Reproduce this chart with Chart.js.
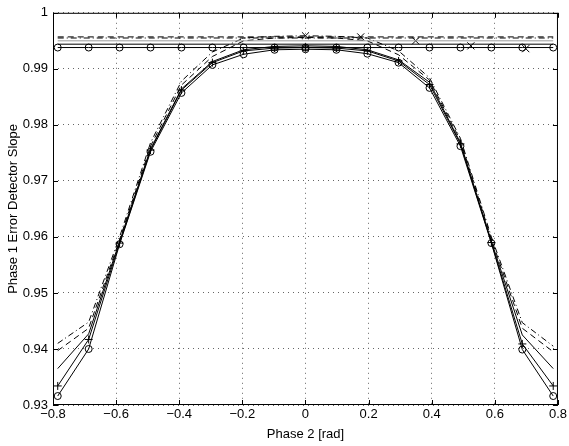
<!DOCTYPE html>
<html lang="en">
  <head>
    <meta charset="UTF-8" />
    <title>Phase 1 Error Detector Slope</title>
    <script src="https://cdn.jsdelivr.net/npm/chart.js"></script>
    <style>
      body { margin: 0; background: #fff; }
    </style>
  </head>
  <body>
    <canvas id="myChart" width="569" height="446"></canvas>

    <script>
      // phase 2 sample points [rad]
      const phase = [-0.785, -0.687, -0.589, -0.491, -0.393, -0.295, -0.196, -0.098, 0,
        0.098, 0.196, 0.295, 0.393, 0.491, 0.589, 0.687, 0.785];

      // curves
      const slopeCircle = [0.9316, 0.9400, 0.9587, 0.9752, 0.9857, 0.9907, 0.9926, 0.9934, 0.9935,
        0.9934, 0.9927, 0.9911, 0.9866, 0.9762, 0.9589, 0.9399, 0.9316];
      const slopePlus = [0.9334, 0.9417, 0.9589, 0.9755, 0.9862, 0.9911, 0.9932, 0.9937, 0.9938,
        0.9937, 0.9932, 0.9914, 0.9872, 0.9766, 0.9590, 0.9409, 0.9334];
      const slopeSolid = [0.9365, 0.9427, 0.9592, 0.9757, 0.9864, 0.9913, 0.9934, 0.9940, 0.9941,
        0.9940, 0.9934, 0.9916, 0.9876, 0.9768, 0.9592, 0.9425, 0.9365];
      const slopeDashed = [0.9397, 0.9437, 0.9595, 0.9762, 0.9871, 0.9922, 0.9950, 0.9955, 0.9956,
        0.9955, 0.9950, 0.9925, 0.9880, 0.9772, 0.9596, 0.9437, 0.9395];
      const slopeDashDot = [0.9410, 0.9448, 0.9600, 0.9768, 0.9878, 0.9930, 0.9955, 0.9958, 0.9959,
        0.9958, 0.9955, 0.9932, 0.9884, 0.9776, 0.9600, 0.9447, 0.9405];

      // flat reference levels
      const refCircle = [0.9938, 0.9938, 0.9938, 0.9938, 0.9938, 0.9938, 0.9938, 0.9938, 0.9938,
        0.9938, 0.9938, 0.9938, 0.9938, 0.9938, 0.9938, 0.9938, 0.9938];
      const refEnds = [-0.785, 0.785];
      const refSolid = [0.9944, 0.9944];
      const refGray = [0.9950, 0.9950];
      const refDashDot = [0.9955, 0.9955];
      const refDashed = [0.9957, 0.9957];

      // separate 'x' samples
      const crossPhase = [0, 0.175, 0.349, 0.524, 0.698];
      const crossSlope = [0.9959, 0.9957, 0.9950, 0.9941, 0.9936];

      const xTicks = [-0.8, -0.6, -0.4, -0.2, 0, 0.2, 0.4, 0.6, 0.8];
      const yTicks = [0.93, 0.94, 0.95, 0.96, 0.97, 0.98, 0.99, 1];

      const pts = (xs, ys) => xs.map((x, i) => ({ x: x, y: ys[i] }));
      const minus = (s) => s.replace("-", "\u2212");

      function line(xs, ys, opts) {
        return Object.assign({
          data: pts(xs, ys),
          showLine: true,
          borderColor: "#000",
          borderWidth: 1,
          pointRadius: 0,
          pointBorderColor: "#000",
          pointBackgroundColor: "rgba(0,0,0,0)",
          pointBorderWidth: 1,
        }, opts);
      }

      // box + inward ticks, matlab style
      const frame = {
        id: "frame",
        afterDraw(chart) {
          const { ctx, chartArea: a, scales } = chart;
          ctx.save();
          ctx.strokeStyle = "#000";
          ctx.lineWidth = 1;
          ctx.strokeRect(a.left + 0.5, a.top + 0.5, a.right - a.left - 1, a.bottom - a.top - 1);
          ctx.beginPath();
          xTicks.forEach((v) => {
            const px = Math.round(scales.x.getPixelForValue(v)) + 0.5;
            ctx.moveTo(px, a.bottom); ctx.lineTo(px, a.bottom - 5);
            ctx.moveTo(px, a.top); ctx.lineTo(px, a.top + 5);
          });
          yTicks.forEach((v) => {
            const py = Math.round(scales.y.getPixelForValue(v)) + 0.5;
            ctx.moveTo(a.left, py); ctx.lineTo(a.left + 5, py);
            ctx.moveTo(a.right, py); ctx.lineTo(a.right - 5, py);
          });
          ctx.stroke();
          ctx.restore();
        },
      };

      Chart.defaults.font.family = "'Liberation Sans', Arial, sans-serif";
      Chart.defaults.font.size = 13;
      Chart.defaults.color = "#000";

      const ctx = document.getElementById("myChart").getContext("2d");
      const myChart = new Chart(ctx, {
        type: "scatter",
        data: {
          datasets: [
            line(refEnds, refDashed, { borderDash: [6, 4] }),
            line(refEnds, refDashDot, { borderDash: [6, 3, 1, 3] }),
            line(refEnds, refGray, { borderColor: "#999" }),
            line(refEnds, refSolid, {}),
            line(phase, refCircle, { pointRadius: 3.5, pointStyle: "circle" }),
            line(phase, slopeDashDot, { borderDash: [6, 3, 1, 3] }),
            line(phase, slopeDashed, { borderDash: [6, 4] }),
            line(phase, slopeSolid, {}),
            line(phase, slopePlus, { pointRadius: 4, pointStyle: "cross" }),
            line(phase, slopeCircle, { pointRadius: 3.5, pointStyle: "circle" }),
            line(crossPhase, crossSlope, { showLine: false, pointRadius: 5, pointStyle: "crossRot" }),
          ],
        },
        options: {
          responsive: false,
          animation: false,
          devicePixelRatio: 1,
          layout: { padding: { top: 9, right: 9, left: 0, bottom: 0 } },
          plugins: { legend: { display: false }, tooltip: { enabled: false } },
          scales: {
            x: {
              type: "linear",
              min: -0.8,
              max: 0.8,
              afterFit: (s) => { s.height = 41; },
              afterBuildTicks: (s) => { s.ticks = xTicks.map((v) => ({ value: v })); },
              ticks: {
                padding: 2,
                maxRotation: 0,
                callback: (v) => minus(String(+v.toFixed(1))),
              },
              grid: { color: "#666", drawTicks: false },
              border: { display: false, dash: [1, 4] },
              title: { display: true, text: "Phase 2 [rad]", padding: { top: 0, bottom: 4 } },
            },
            y: {
              min: 0.93,
              max: 1,
              afterFit: (s) => { s.width = 53; },
              afterBuildTicks: (s) => { s.ticks = yTicks.map((v) => ({ value: v })); },
              ticks: {
                padding: 5,
                callback: (v) => String(+v.toFixed(2)),
              },
              grid: { color: "#666", drawTicks: false },
              border: { display: false, dash: [1, 4] },
              title: { display: true, text: "Phase 1 Error Detector Slope", padding: { top: 6, bottom: 0 } },
            },
          },
        },
        plugins: [frame],
      });
    </script>
  </body>
</html>
